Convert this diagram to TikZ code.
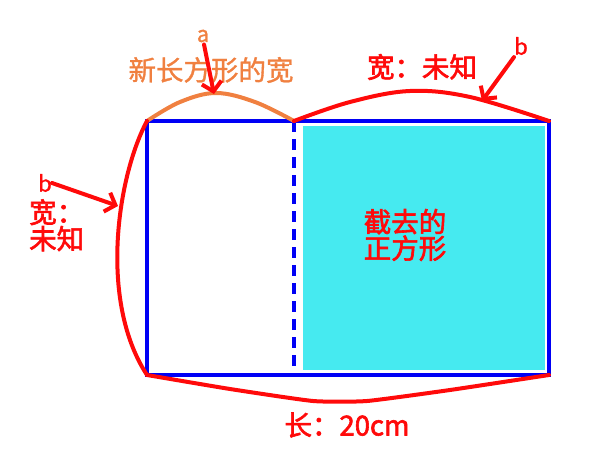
\documentclass[tikz,border=0pt]{standalone}
\usepackage{fontspec}
\newfontfamily\cjkfb{Noto Sans CJK SC}[FakeBold=1.2]
\newfontfamily\cjkrb{Noto Sans CJK SC}[FakeBold=2.2]
\usetikzlibrary{arrows.meta}
\definecolor{myred}{RGB}{255,10,10}
\definecolor{myblue}{RGB}{0,0,245}
\definecolor{myorange}{RGB}{240,128,64}
\definecolor{mycyan}{RGB}{70,234,240}
\tikzset{
  bluebox/.style={draw=myblue,line width=4.5pt},
  redcurve/.style={draw=myred,line width=4pt,line join=round,line cap=round},
  orcurve/.style={draw=myorange,line width=4pt,line cap=round},
  redarrow/.style={draw=myred,line width=4pt,line cap=round,-{Straight Barb[length=9pt,width=20pt,line width=4pt]}},
  redtxt/.style={text=myred,font=\cjkrb\fontsize{27.5pt}{26.5pt}\selectfont,inner sep=0pt},
  ortxt/.style={text=myorange,font=\cjkfb\fontsize{27.5pt}{27pt}\selectfont,inner sep=0pt},
  lettxt/.style={font=\cjkfb\fontsize{22pt}{22pt}\selectfont,inner sep=0pt}
}
\begin{document}
\begin{tikzpicture}[x=1pt,y=-1pt]
\useasboundingbox (0,0) rectangle (602,452);
% corners
\coordinate (TL) at (147,121);
\coordinate (TR) at (549,121);
\coordinate (BL) at (147,375);
\coordinate (BR) at (549,375);
\coordinate (TM) at (294,121);
\coordinate (BM) at (294,375);
% cut square fill
\fill[mycyan] (303,126) rectangle (545,370);
% rectangle
\draw[bluebox] (TL) rectangle (BR);
\draw[myblue,line width=4.5pt,dash pattern=on 11pt off 7pt] (TM) -- (BM);
% orange curve
\draw[orcurve] plot[smooth,tension=0.6] coordinates {(TL) (180,102) (216,93) (255,102) (TM)};
% top red curve
\draw[redcurve] plot[smooth,tension=0.6] coordinates {(TM) (350,102) (410,91) (470,97) (TR)};
% left red curve
\draw[redcurve] (TL) .. controls (118,175) and (98,300) .. (BL);
% bottom red curve
\draw[redcurve] plot[smooth,tension=0.3] coordinates {(BL) (230,389) (313,401) (367,401) (450,390) (BR)};
% labels
\node[lettxt,text=myorange] (la) at (203,36) {a};
\node[ortxt] (newwidth) at (211,70) {新长方形的宽};
\node[redtxt] (topw) at (422,67) {宽：未知};
\node[lettxt,text=myred] (lbt) at (521,46) {b};
\node[lettxt,text=myred] (lbl) at (45,183) {b};
\node[redtxt,align=left,anchor=north west] (leftw) at (29,199) {宽：\\未知};
\node[redtxt,align=center] (cut) at (405,235) {截去的\\正方形};
\node[redtxt] (len) at (347,425) {长：20cm};
% arrows
\coordinate (ha) at (214,94);
\coordinate (hb) at (482,101);
\coordinate (hl) at (118,206);
\draw[redarrow] (la.south) ++(1,2) -- (ha);
\draw[redarrow] (lbt.south west) ++(0,2) -- (hb);
\draw[redarrow] (lbl.east) -- (hl);
\end{tikzpicture}
\end{document}
